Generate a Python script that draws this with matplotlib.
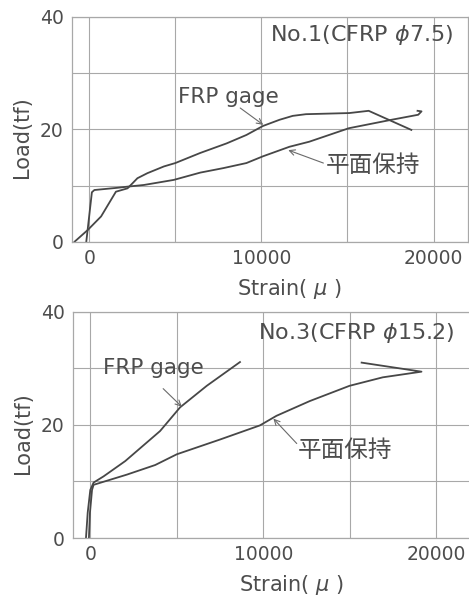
import matplotlib
matplotlib.use("Agg")
import matplotlib.pyplot as plt
from matplotlib.ticker import MultipleLocator

plt.rcParams['font.family'] = ['DejaVu Sans', 'Noto Sans CJK JP']

# ---- data: top panel No.1 (CFRP φ7.5) ----
x1_frp = [-850, -80, 690, 1550, 2225, 2515, 2800, 3380, 4340, 5000, 6450,
          7980, 9130, 10090, 11050, 11820, 12590, 15100, 16230, 18710]
y1_frp = [0, 2.1, 4.5, 8.9, 9.5, 10.4, 11.3, 12.2, 13.4, 14.0, 15.8,
          17.5, 19.0, 20.6, 21.7, 22.4, 22.7, 22.9, 23.3, 19.9]
x1_pl = [-170, 155, 300, 1650, 2225, 3180, 4910, 6450, 7790, 9130, 10090,
         11630, 12780, 15080, 17550, 19110, 19300, 19070]
y1_pl = [0, 8.8, 9.2, 9.6, 9.8, 10.1, 11.0, 12.3, 13.1, 14.0, 15.2,
         16.9, 17.8, 20.2, 21.7, 22.6, 23.2, 23.3]

# ---- data: bottom panel No.3 (CFRP φ15.2) ----
x3_frp = [-250, -150, 0, 190, 770, 2020, 4030, 5190, 6730, 8650]
y3_frp = [0, 4.5, 8.5, 9.8, 10.9, 13.6, 18.9, 23.1, 26.9, 31.1]
x3_pl = [-80, -20, 100, 190, 2110, 3750, 5000, 7490, 9800, 10760, 12680,
         14980, 16900, 19140, 15680]
y3_pl = [0, 4.5, 8.5, 9.4, 11.2, 12.9, 14.8, 17.4, 19.9, 21.6, 24.2,
         26.9, 28.4, 29.4, 31.0]

x_major = [0, 10000, 20000]
y_major = [0, 20, 40]
xlabel = "Strain( $\\mu$ )"
ylabel = "Load(tf)"
titles = ["No.1(CFRP $\\phi$7.5)", "No.3(CFRP $\\phi$15.2)"]
lab_frp = "FRP gage"
lab_pl = "平面保持"

LINE = '#474747'
TXT = '#4d4d4d'
GRID = '#a8a8a8'

W, H = 469, 598
fig = plt.figure(figsize=(W / 100, H / 100), dpi=100)


def make_axes(left_px, top_px, bottom_px, right_px):
    return fig.add_axes([left_px / W, 1 - bottom_px / H,
                         (right_px - left_px) / W, (bottom_px - top_px) / H])


ax1 = make_axes(72, 17, 241.7, 468)
ax2 = make_axes(73, 311.7, 538, 471)

panels = [
    (ax1, x1_frp, y1_frp, x1_pl, y1_pl, titles[0],
     (10520, 36.8), (5170, 25.7), (8770, 23.8), (10110, 20.8),
     (13710, 13.6), (13600, 14.0), (11560, 16.3)),
    (ax2, x3_frp, y3_frp, x3_pl, y3_pl, titles[1],
     (9690, 36.2), (750, 30.0), (4210, 26.4), (5290, 23.2),
     (12000, 15.5), (11930, 16.7), (10580, 21.1)),
]

for (ax, xf, yf, xp, yp, title, tpos, fpos, ftail, fhead,
     ppos, ptail, phead) in panels:
    ax.set_xlim(-1000, 22000)
    ax.set_ylim(0, 40)
    ax.set_xticks(x_major)
    ax.set_yticks(y_major)
    ax.xaxis.set_minor_locator(MultipleLocator(5000))
    ax.yaxis.set_minor_locator(MultipleLocator(10))
    ax.grid(True, which='both', color=GRID, lw=0.8)
    ax.set_axisbelow(True)
    for s in ax.spines.values():
        s.set_color(GRID)
        s.set_linewidth(0.9)
    ax.tick_params(which='both', length=0, labelsize=13.5, labelcolor=TXT)
    ax.tick_params(axis='x', pad=5)
    ax.tick_params(axis='y', pad=6)

    ax.plot(xf, yf, color=LINE, lw=1.3)
    ax.plot(xp, yp, color=LINE, lw=1.3)

    ax.text(tpos[0], tpos[1], title, fontsize=16, color=TXT, va='center',
            ha='left')
    ax.text(fpos[0], fpos[1], lab_frp, fontsize=15.5, color=TXT, va='center',
            ha='left')
    ax.text(ppos[0], ppos[1], lab_pl, fontsize=17, color=TXT, va='center',
            ha='left', family=['Noto Sans CJK JP', 'DejaVu Sans'])
    arrow = dict(arrowstyle='->', color='#6a6a6a', lw=0.8,
                 shrinkA=0, shrinkB=0, mutation_scale=10)
    ax.annotate('', xy=fhead, xytext=ftail, arrowprops=arrow)
    ax.annotate('', xy=phead, xytext=ptail, arrowprops=arrow)

    ax.set_xlabel(xlabel, fontsize=15, color=TXT)
    ax.set_ylabel(ylabel, fontsize=15, color=TXT)
    ax.xaxis.set_label_coords(0.55, -0.155)
    ax.yaxis.set_label_coords(-0.10, 0.465)

fig.savefig("out.png", dpi=100)
